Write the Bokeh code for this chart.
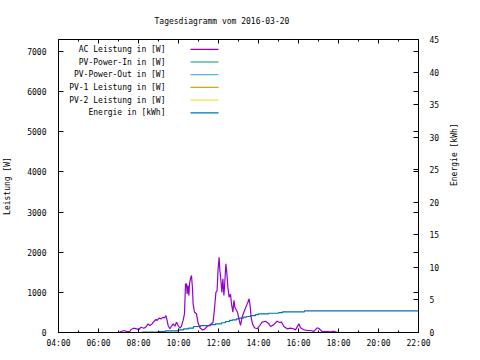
import math
from bokeh.plotting import figure
from bokeh.models import Range1d, LinearAxis, FixedTicker
from bokeh.embed import file_html
from bokeh.resources import INLINE
from bokeh.core.properties import value

# ---------------- data ----------------
title_text = "Tagesdiagramm vom 2016-03-20"
y1_label = "Leistung [W]"
y2_label = "Energie [kWh]"

x_ticks = [4, 6, 8, 10, 12, 14, 16, 18, 20, 22]
x_tick_labels = ["04:00", "06:00", "08:00", "10:00", "12:00", "14:00",
                 "16:00", "18:00", "20:00", "22:00"]
x_minor = [5, 7, 9, 11, 13, 15, 17, 19, 21]
y1_ticks = [0, 1000, 2000, 3000, 4000, 5000, 6000, 7000]
y2_ticks = [0, 5, 10, 15, 20, 25, 30, 35, 40, 45]
y1_max = 7300
y2_max = 45

series_names = ["AC Leistung in [W]", "PV-Power-In in [W]", "PV-Power-Out in [W]",
                "PV-1 Leistung in [W]", "PV-2 Leistung in [W]", "Energie in [kWh]"]
series_colors = ["#9400d3", "#009e73", "#56b4e9", "#e69f00", "#f0e442", "#0072b2"]

ac_hours = [7.02, 7.13, 7.27, 7.40, 7.57, 7.63, 7.77, 7.90, 8.02, 8.13, 8.27, 8.40,
            8.47, 8.57, 8.68, 8.77, 8.87, 8.93, 9.03, 9.13, 9.23, 9.30, 9.37, 9.43,
            9.48, 9.57, 9.65, 9.73, 9.82, 9.90, 9.98, 10.07, 10.15, 10.23, 10.30, 10.35,
            10.40, 10.43, 10.47, 10.52, 10.55, 10.60, 10.65, 10.70, 10.73, 10.80, 10.90,
            10.97, 11.07, 11.18, 11.30, 11.43, 11.60, 11.73, 11.80, 11.87, 11.93, 11.98,
            12.03, 12.07, 12.12, 12.17, 12.22, 12.27, 12.32, 12.37, 12.42, 12.47, 12.53,
            12.60, 12.65, 12.72, 12.77, 12.82, 12.90, 12.95, 13.02, 13.10, 13.18, 13.30,
            13.40, 13.47, 13.53, 13.58, 13.63, 13.70, 13.80, 13.93, 14.03, 14.18, 14.35,
            14.52, 14.60, 14.75, 14.93, 15.05, 15.15, 15.27, 15.43, 15.60, 15.72, 15.85,
            16.02, 16.10, 16.27, 16.45, 16.60, 16.77, 16.93, 17.02, 17.18, 17.43, 17.60,
            17.75, 17.90, 18.02, 18.18]
ac_watts = [0, 25, 50, 25, 25, 75, 107, 92, 75, 132, 107, 150,
            215, 175, 215, 275, 325, 300, 357, 340, 380, 360, 420, 300,
            175, 92, 157, 215, 157, 257, 175, 107, 157, 300, 465, 1210,
            1210, 960, 1170, 920, 1210, 1340, 1420, 1090, 715, 505, 465,
            257, 117, 67, 80, 150, 200, 257, 590, 1000, 1045, 1585,
            1875, 1540, 1295, 1000, 1340, 920, 1290, 1710, 1460, 1130, 880,
            960, 715, 505, 800, 630, 550, 505, 340, 175, 380, 550,
            670, 755, 840, 670, 380, 215, 117, 92, 150, 257, 281,
            216, 149, 190, 281, 250, 260, 149, 92, 110, 100, 66,
            216, 120, 66, 50, 50, 30, 117, 100, 25, 25, 15,
            30, 10, 5, 0]

energy_hours = [8.18, 9.0, 9.35, 10.0, 10.25, 10.5, 10.75, 11.1, 11.6, 11.85, 12.15,
                12.35, 12.55, 12.7, 12.9, 13.05, 13.25, 13.4, 13.6, 13.85, 14.0, 14.5,
                15.0, 15.2, 16.3, 22.0]
energy_kwh = [0.05, 0.12, 0.25, 0.41, 0.55, 0.66, 0.92, 1.07, 1.2, 1.33, 1.5,
              1.69, 1.85, 1.95, 2.1, 2.2, 2.35, 2.46, 2.6, 2.75, 2.87, 2.96,
              3.05, 3.17, 3.32, 3.32]

pv_in_hours, pv_in_watts = [], []
pv_out_hours, pv_out_watts = [], []
pv1_hours, pv1_watts = [], []
pv2_hours, pv2_watts = [], []

# ---------------- figure ----------------
FONT = "DejaVu Sans Mono"
FS = "8px"
FRAME_L, FRAME_R, FRAME_T, FRAME_B = 58, 418, 39, 332

p = figure(width=480, height=360, output_backend="svg", toolbar_location=None,
           x_range=Range1d(4, 22), y_range=Range1d(0, y1_max),
           x_axis_type=None, y_axis_type=None,
           min_border_left=FRAME_L, min_border_right=480 - FRAME_R,
           min_border_top=FRAME_T, min_border_bottom=360 - FRAME_B)
p.extra_y_ranges = {"energy": Range1d(0, y2_max)}
p.outline_line_color = "black"
p.outline_line_alpha = 1
p.background_fill_color = "white"
p.border_fill_color = "white"

p.title.text = title_text
p.title.align = "left"
p.title.offset = 96
p.title.standoff = 27
p.title.text_font = FONT
p.title.text_font_size = FS
p.title.text_font_style = "normal"
p.title.text_color = "black"


def style(ax):
    ax.axis_line_color = "black"
    ax.major_tick_line_color = "black"
    ax.minor_tick_line_color = "black"
    ax.major_tick_out = 0
    ax.minor_tick_out = 0
    ax.major_label_text_font = FONT
    ax.major_label_text_font_size = FS
    ax.major_label_text_color = "black"
    ax.axis_label_text_font = FONT
    ax.axis_label_text_font_size = FS
    ax.axis_label_text_font_style = "normal"
    ax.axis_label_text_color = "black"


xaxis = LinearAxis(ticker=FixedTicker(ticks=x_ticks, minor_ticks=x_minor),
                   major_label_overrides=dict(zip(x_ticks, x_tick_labels)))
style(xaxis)
xaxis.major_tick_in = 4
xaxis.minor_tick_in = 2
xaxis.major_label_standoff = 6
p.add_layout(xaxis, "below")

yaxis = LinearAxis(ticker=FixedTicker(ticks=y1_ticks, minor_ticks=[]),
                   axis_label=y1_label)
style(yaxis)
yaxis.major_tick_in = 5
yaxis.major_label_standoff = 12
yaxis.axis_label_standoff = 12
p.add_layout(yaxis, "left")

mirror = [t * y2_max / y1_max for t in y1_ticks[1:]]
y2axis = LinearAxis(y_range_name="energy",
                    ticker=FixedTicker(ticks=y2_ticks, minor_ticks=mirror),
                    axis_label=y2_label)
style(y2axis)
y2axis.major_tick_in = 5
y2axis.minor_tick_in = 5
y2axis.major_label_standoff = 11
y2axis.axis_label_standoff = 12
y2axis.axis_label_orientation = math.pi / 2
p.add_layout(y2axis, "right")

# mirrored x ticks on the top border (gnuplot style)
px_per_w = (FRAME_B - FRAME_T) / y1_max
p.segment(x0=x_ticks, y0=[y1_max] * len(x_ticks), x1=x_ticks,
          y1=[y1_max - 4 / px_per_w] * len(x_ticks), line_color="black", line_width=1)
p.segment(x0=x_minor, y0=[y1_max] * len(x_minor), x1=x_minor,
          y1=[y1_max - 2 / px_per_w] * len(x_minor), line_color="black", line_width=1)

# ---------------- data lines ----------------
p.line(pv_in_hours, pv_in_watts, line_color=series_colors[1], line_width=1)
p.line(pv_out_hours, pv_out_watts, line_color=series_colors[2], line_width=1)
p.line(pv1_hours, pv1_watts, line_color=series_colors[3], line_width=1)
p.line(pv2_hours, pv2_watts, line_color=series_colors[4], line_width=1)
p.step(energy_hours, energy_kwh, mode="after", y_range_name="energy",
       line_color=series_colors[5], line_width=1.2)
p.line(ac_hours, ac_watts, line_color=series_colors[0], line_width=1.2)

# ---------------- legend (gnuplot style: text right, sample line) ----------------
def px2x(px):
    return 4 + (px - FRAME_L) / 20.0


def py2y(py):
    return (FRAME_B - py) / px_per_w


rows = [48.8 + 12.7 * i for i in range(len(series_names))]
p.text(x=[px2x(165)] * len(rows), y=[py2y(r) for r in rows], text=series_names,
       text_align="right", text_baseline="middle", text_font=value(FONT),
       text_font_size=FS, text_color="black")
p.segment(x0=[px2x(190)] * len(rows), y0=[py2y(r) for r in rows],
          x1=[px2x(218)] * len(rows), y1=[py2y(r) for r in rows],
          line_color=series_colors, line_width=1.2)

open("out.html", "w").write(file_html(p, INLINE))
